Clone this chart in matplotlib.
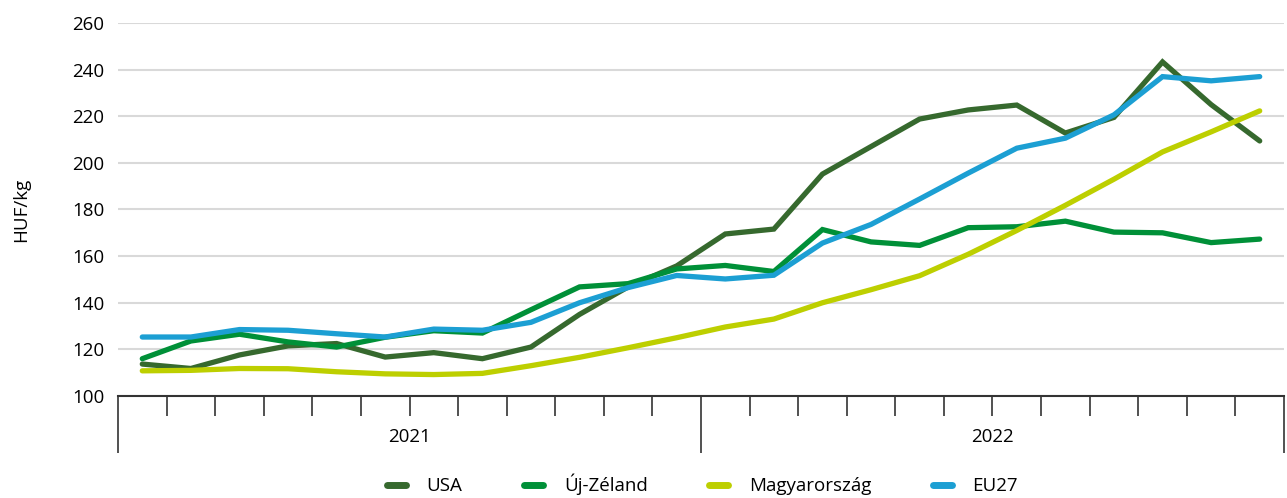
import numpy as np
import matplotlib.pyplot as plt
from matplotlib.lines import Line2D
import matplotlib.transforms as mtransforms

plt.rcParams['font.family'] = ['Open Sans', 'DejaVu Sans']

years = ['2021', '2022']
usa = [113.7, 111.8, 117.6, 121.5, 122.5, 116.7, 118.6, 116.0, 121.0, 135.0,
       146.8, 155.8, 169.5, 171.6, 195.2, 207.0, 218.8, 222.7, 224.8, 212.8,
       219.5, 243.3, 225.0, 209.4]
nz = [116.0, 123.6, 126.5, 123.2, 121.0, 125.2, 128.0, 127.0, 137.0, 146.8,
      148.2, 154.5, 156.0, 153.4, 171.4, 166.1, 164.6, 172.2, 172.6, 175.0,
      170.3, 170.0, 165.8, 167.3]
hu = [110.8, 111.0, 111.8, 111.7, 110.4, 109.5, 109.2, 109.7, 113.0, 116.6,
      120.7, 125.0, 129.6, 133.0, 140.0, 145.6, 151.6, 160.8, 171.0, 181.8,
      193.0, 204.7, 213.3, 222.3]
eu = [125.3, 125.3, 128.5, 128.2, 126.7, 125.3, 128.7, 128.2, 131.6, 140.0,
      146.5, 151.7, 150.2, 151.8, 165.6, 173.6, 184.5, 195.6, 206.3, 210.6,
      220.6, 237.0, 235.2, 237.0]

series = [('USA', usa, '#36692e'),
          ('Új-Zéland', nz, '#009038'),
          ('Magyarország', hu, '#bdcf00'),
          ('EU27', eu, '#1c9fd3')]

fig = plt.figure(figsize=(12.87, 4.98), dpi=100)
ax = fig.add_axes([118 / 1287, 1 - 396 / 498, (1284 - 118) / 1287, (396 - 23) / 498])

x = np.arange(len(usa))
for name, vals, col in series:
    ax.plot(x, vals, color=col, lw=3.8, solid_capstyle='round', solid_joinstyle='miter', label=name)

ax.set_ylim(100, 260)
ax.set_yticks(np.arange(100, 261, 20))
ax.set_xlim(-0.5, 23.5)
ax.yaxis.grid(True, color='#d9d9d9', lw=1.5)
ax.set_axisbelow(True)
for s in ['left', 'right', 'top']:
    ax.spines[s].set_visible(False)
ax.spines['bottom'].set_color('#333333')
ax.spines['bottom'].set_linewidth(1.5)
ax.tick_params(axis='y', length=0, labelsize=13.5, pad=10)

ax.set_xticks([-0.5, 11.5, 23.5])
ax.set_xticks(np.arange(0.5, 23, 1), minor=True)
ax.tick_params(axis='x', which='major', length=41, width=1.2, color='#333333', labelbottom=False)
ax.tick_params(axis='x', which='minor', length=14.5, width=1.2, color='#333333')

trans = mtransforms.blended_transform_factory(ax.transData, ax.transAxes)
for i, yr in enumerate(years):
    ax.text(5.5 + 12 * i, -0.11, yr, transform=trans, ha='center', va='center', fontsize=13.5)

ax.set_ylabel('HUF/kg', fontsize=13.5, labelpad=30)

handles = [Line2D([0], [0], color=c, lw=5, solid_capstyle='round') for _, _, c in series]
fig.legend(handles, [n for n, _, _ in series], loc='center', bbox_to_anchor=(0.546, 0.027),
           ncol=4, frameon=False, fontsize=13.5, handlelength=1.0, columnspacing=3.3, handletextpad=1.1)

fig.savefig('out.png', dpi=100)
